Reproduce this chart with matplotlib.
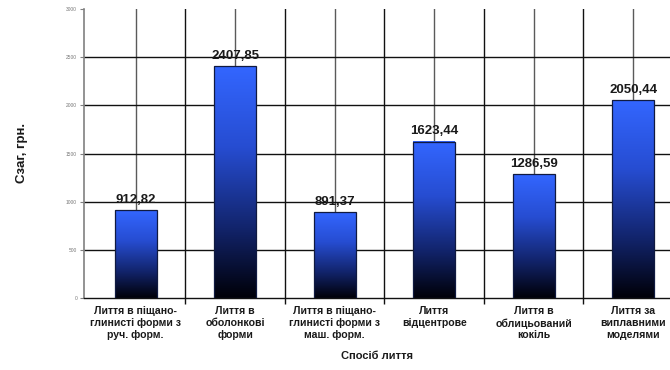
import numpy as np
import matplotlib
matplotlib.use("Agg")
import matplotlib.pyplot as plt
from matplotlib.colors import LinearSegmentedColormap

plt.rcParams['font.family'] = ['Liberation Sans', 'DejaVu Sans']

categories = [
    "Лиття в піщано-\nглинисті форми з\nруч. форм.",
    "Лиття в\nоболонкові\nформи",
    "Лиття в піщано-\nглинисті форми з\nмаш. форм.",
    "Лиття\nвідцентрове",
    "Лиття в\nоблицьований\nкокіль",
    "Лиття за\nвиплавними\nмоделями",
]
values = [912.82, 2407.85, 891.37, 1623.44, 1286.59, 2050.44]
value_labels = ["912,82", "2407,85", "891,37", "1623,44", "1286,59", "2050,44"]
y_ticks = [0, 500, 1000, 1500, 2000, 2500, 3000]

fig = plt.figure(figsize=(6.7, 3.7), dpi=100)
ax = fig.add_axes([84 / 670, 72 / 370, 1 - 84 / 670, (298 - 9) / 370])

# blue-to-black vertical fill used inside every bar
cmap = LinearSegmentedColormap.from_list(
    "bar_fill",
    [(0.0, (0.0, 0.0, 0.03)),
     (0.3, (0.07, 0.14, 0.42)),
     (0.65, (0.15, 0.3, 0.82)),
     (1.0, (0.2, 0.4, 1.0))])
grad = np.linspace(0, 1, 256).reshape(-1, 1)

x = np.arange(len(values))
width = 0.42

# grid: gray lines through category centres, black lines between categories
for xc in x:
    ax.axvline(xc, color="#5a5a5a", lw=1.0, zorder=0)
for xb in x[:-1] + 0.5:
    ax.axvline(xb, color="#111111", lw=1.0, zorder=0)
for yt in y_ticks[1:-1]:
    ax.axhline(yt, color="#111111", lw=1.0, zorder=0)

for xi, v, lab in zip(x, values, value_labels):
    ax.imshow(grad, cmap=cmap, origin="lower", aspect="auto",
              extent=(xi - width / 2, xi + width / 2, 0, v), zorder=2,
              interpolation="bicubic")
    ax.bar(xi, v, width=width, facecolor="none", edgecolor="#101a40",
           lw=0.9, zorder=3)
    ax.text(xi, v + 45, lab, ha="center", va="bottom", fontsize=9.5,
            fontweight="bold", color="#1a1a1a", zorder=4)

ax.set_xlim(-0.52, 5.37)
ax.set_ylim(0, 3000)

ax.set_xticks(x)
ax.set_xticklabels(categories, fontsize=7.6, fontweight="bold",
                   color="#1a1a1a", linespacing=1.2)
ax.set_xticks(x[:-1] + 0.5, minor=True)
ax.tick_params(axis="x", which="major", length=0, pad=6)
ax.tick_params(axis="x", which="minor", length=4, width=1.0,
               color="#111111", direction="out")

ax.set_yticks(y_ticks)
ax.set_yticklabels([str(t) for t in y_ticks], fontsize=3.5, color="#777777")
ax.tick_params(axis="y", length=3, width=0.8, color="#808080", pad=2)

for s in ("top", "right"):
    ax.spines[s].set_visible(False)
ax.spines["left"].set_color("#808080")
ax.spines["left"].set_linewidth(1.2)
ax.spines["bottom"].set_color("#111111")
ax.spines["bottom"].set_linewidth(1.0)

fig.text(377 / 670, 1 - 356 / 370, "Спосіб лиття", ha="center", va="center",
         fontsize=8, fontweight="bold", color="#1a1a1a")
fig.text(22 / 670, 1 - 153 / 370, "Сзаг, грн.", ha="center", va="center",
         rotation=90, fontsize=9.5, fontweight="bold", color="#1a1a1a")

fig.savefig("out.png", dpi=100)
